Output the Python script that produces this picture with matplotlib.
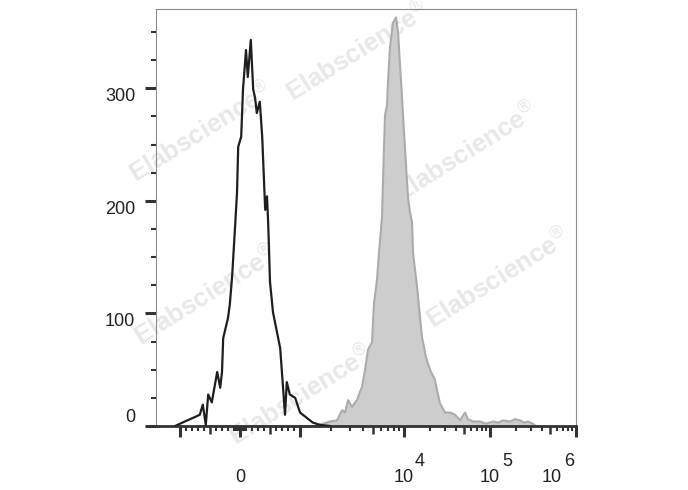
import numpy as np
import matplotlib.pyplot as plt
from matplotlib.transforms import ScaledTranslation
from matplotlib.markers import TICKDOWN

plt.rcParams['font.family'] = ['Liberation Sans', 'DejaVu Sans']
plt.rcParams['mathtext.fontset'] = 'custom'
plt.rcParams['mathtext.rm'] = 'Liberation Sans'

# control (black outline) histogram: fluorescence value, event count
ctrl_x = [-1080, -1000, -920, -750, -670, -620, -570, -530, -470, -380, -330, -300,
          -280, -200, -170, -130, -80, -50, -30, 20, 50, 100, 130, 180, 220, 250,
          280, 330, 370, 420, 450, 470, 500, 550, 670, 750, 780, 830, 920, 1000,
          1170, 1330, 1560, 1940]
ctrl_y = [0, 2, 4, 8, 10, 19, 1, 28, 21, 48, 34, 48,
          78, 96, 108, 134, 179, 207, 248, 257, 299, 334, 310, 343, 299, 292,
          278, 288, 257, 192, 204, 180, 128, 101, 69, 10, 39, 28, 25, 12,
          7, 3, 1, 0]

# stained (grey filled) histogram
stain_x = [-700, 1400, 1660, 1940, 2270, 2540, 2710, 2900, 3160, 3530, 3950, 4220,
           4510, 4920, 5150, 5500, 5750, 6140, 6280, 6420, 6570, 6870, 7020, 7330,
           7830, 8380, 8760, 9150, 9570, 10000, 10550, 11130, 11740, 12390, 12730,
           14170, 14550, 16190, 18020, 20060, 22910, 24180, 26230, 29990, 34290,
           39200, 44820, 51240, 55460, 63410, 76490, 90000, 108300, 125000, 141600,
           171000, 195000, 223400, 250000, 276700, 316200, 340000]
stain_y = [0, 0, 2, 4, 5, 14, 12, 23, 17, 23, 35, 50,
           68, 74, 109, 130, 154, 185, 217, 247, 276, 285, 306, 336,
           358, 363, 350, 321, 292, 261, 232, 203, 190, 181, 154,
           124, 115, 79, 61, 50, 41, 32, 20, 12, 12,
           10, 5, 12, 6, 4, 4, 2, 4, 3, 5,
           4, 6, 5, 3, 4, 2, 0]

y_major = [0, 100, 200, 300]
x_major = [-1000, 0, 1000, 1e4, 1e5, 1e6]
x_major_labels = ['', '0', '', '10', '10', '10']
x_exponents = [(1e4, '4'), (1e5, '5'), (1e6, '6')]

# biexponential-like display: linear around zero, log above 10^3
LOG_KNOTS = [3, 4, 5, 6, 9]
PIX_KNOTS = [60, 164, 250, 336, 594]


def fwd(v):
    v = np.asarray(v, dtype=float)
    lg = np.interp(np.log10(np.maximum(v, 1000.0)), LOG_KNOTS, PIX_KNOTS)
    return np.where(v > 1000, lg, v * 0.06)


def inv(d):
    d = np.asarray(d, dtype=float)
    lg = 10 ** np.interp(np.maximum(d, 60.0), PIX_KNOTS, LOG_KNOTS)
    return np.where(d > 60, lg, d / 0.06)


fig = plt.figure(figsize=(6.88, 4.9), dpi=100)
ax = fig.add_axes([156 / 688, 64 / 490, 420 / 688, 416.5 / 490])
ax.set_xscale('function', functions=(fwd, inv))
ax.set_xlim(-1400, 1e6)
ax.set_ylim(0, 370)

ax.fill_between(stain_x, stain_y, color='#cdcdcd', lw=0, zorder=2)
ax.plot(stain_x, stain_y, color='#ababab', lw=1.5, zorder=2.5)
ax.plot(ctrl_x, ctrl_y, color='#1e1e1e', lw=1.6, zorder=3)

# watermarks
for wx, wy in [(0.481, 0.900), (0.736, 0.658), (0.105, 0.706),
               (0.812, 0.355), (0.117, 0.315), (0.343, 0.074)]:
    ax.text(wx, wy, 'Elabscience$^{®}$', transform=ax.transAxes, rotation=32,
            fontsize=18.5, fontweight='bold', color='#e8e8e8', ha='center',
            va='center', rotation_mode='anchor', zorder=1, clip_on=False)

# spines
for s in ['top', 'left', 'right']:
    ax.spines[s].set_color('#8c8c8c')
    ax.spines[s].set_linewidth(0.8)
ax.spines['bottom'].set_color('#333333')
ax.spines['bottom'].set_linewidth(2)

# y axis
ax.set_yticks(y_major, labels=[str(v) for v in y_major])
ax.set_yticks([v for v in range(25, 370, 25) if v % 100], minor=True)
ax.tick_params(axis='y', which='major', length=8, width=2.2, color='#333333',
               pad=7, labelsize=13, labelcolor='#222222')
ax.tick_params(axis='y', which='minor', length=3.5, width=1.5, color='#333333')
for t in ax.yaxis.get_major_ticks():
    t.label1.set_verticalalignment('top')
ax.yaxis.get_major_ticks()[0].label1.set_verticalalignment('bottom')

# x axis
minor_x = [s * v for s in (-1, 1) for v in range(10, 100, 10)]
minor_x += [s * v for s in (-1, 1) for v in range(100, 1000, 100) if v != 500]
for dec in (1e3, 1e4, 1e5):
    minor_x += [m * dec for m in (2, 3, 4, 6, 7, 8, 9)]
medium_x = [-500, 500, 5e3, 5e4, 5e5]

ax.set_xticks(x_major, labels=x_major_labels)
ax.set_xticks(minor_x, minor=True)
ax.tick_params(axis='x', which='major', length=8, width=2.2, color='#333333',
               pad=23, labelsize=13, labelcolor='#222222')
ax.tick_params(axis='x', which='minor', length=3.5, width=1.5, color='#333333')
ax.plot(medium_x, np.zeros(len(medium_x)), transform=ax.get_xaxis_transform(),
        marker=TICKDOWN, ls='', ms=6, mew=1.8, color='#333333', clip_on=False)

last = ax.xaxis.get_major_ticks()[-1].label1
last.set_transform(last.get_transform() + ScaledTranslation(-0.24, 0, fig.dpi_scale_trans))

for (val, e), dx in zip(x_exponents, [11, 12, -12]):
    ax.annotate(e, xy=(val, 0), xycoords=ax.get_xaxis_transform(),
                xytext=(dx, -40), textcoords='offset pixels', ha='left',
                va='baseline', fontsize=13, color='#222222', annotation_clip=False)

fig.savefig('out.png', dpi=100)
